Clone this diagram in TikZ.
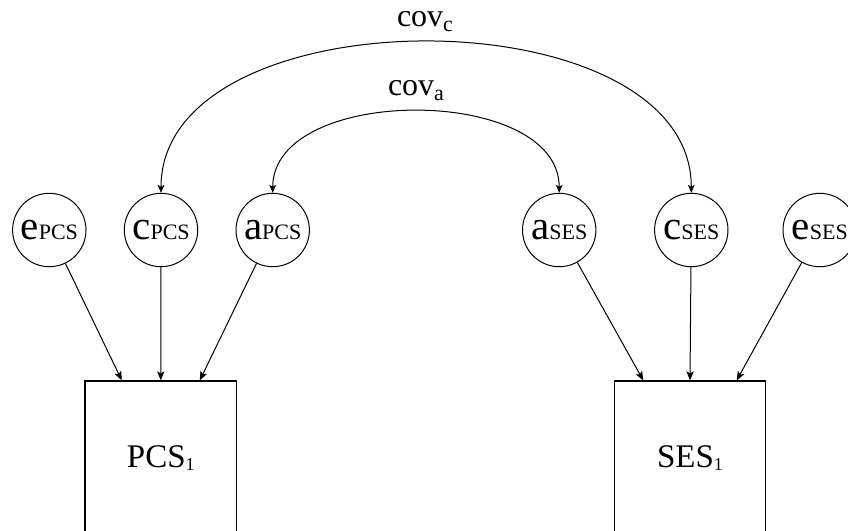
\documentclass[tikz,border=0pt]{standalone}
\usepackage{fontspec}
\setmainfont{Liberation Serif}
\newfontfamily\labfont{Liberation Serif}
\usetikzlibrary{arrows.meta,calc}
\newcommand\circlab[2]{{\labfont\fontsize{20.5}{20.5}\selectfont #1}{\labfont\fontsize{11}{11}\selectfont #2}}
\newcommand\boxlab[2]{{\labfont\fontsize{16.5}{16.5}\selectfont #1}\raisebox{-1.5pt}{\labfont\fontsize{9}{9}\selectfont #2}}
\newcommand\covlab[1]{{\labfont\fontsize{16}{16}\selectfont cov}\raisebox{-2.5pt}{\labfont\fontsize{11}{11}\selectfont #1}}
\tikzset{
  latent/.style={draw, circle, line width=0.5pt, minimum size=36.7pt, inner sep=0pt, font=\labfont, text height=9.4pt, text depth=0pt},
  observed/.style={draw, rectangle, line width=0.6pt, minimum width=75.75pt, minimum height=75.5pt, inner sep=0pt, font=\labfont, text height=10.9pt, text depth=0pt},
  path arrow/.style={line width=0.5pt, -{Stealth[length=4.5pt,width=3.6pt,inset=1pt]}},
  cov arrow/.style={line width=0.5pt, {Stealth[length=4pt,width=3.4pt,inset=1pt]}-{Stealth[length=4pt,width=3.4pt,inset=1pt]}},
  covtext/.style={anchor=base, inner sep=0pt, font=\labfont}
}
\begin{document}
\begin{tikzpicture}[x=0.5pt, y=-0.5pt]
\useasboundingbox (0,0) rectangle (848,531);
% latent variables
\node[latent] (ep) at (49.3,230) {\circlab{e}{PCS}};
\node[latent] (cp) at (161,230) {\circlab{c}{PCS}};
\node[latent] (ap) at (272.7,230) {\circlab{a}{PCS}};
\node[latent] (as) at (559.2,230) {\circlab{a}{SES}};
\node[latent] (cs) at (691.3,230) {\circlab{c}{SES}};
\node[latent] (es) at (819.7,230) {\circlab{e}{SES}};
% observed
\node[observed] (pcs) at (160.8,456.5) {\boxlab{PCS}{1}};
\node[observed] (ses) at (690,456.5) {\boxlab{SES}{1}};
% targets on box tops
\coordinate (p1) at ($(pcs.north)+(-39,0)$);
\coordinate (p2) at (pcs.north);
\coordinate (p3) at ($(pcs.north)+(39,0)$);
\coordinate (s1) at ($(ses.north)+(-46.7,0)$);
\coordinate (s2) at (ses.north);
\coordinate (s3) at ($(ses.north)+(46.7,0)$);
\draw[path arrow] (ep) -- (p1);
\draw[path arrow] (cp) -- (p2);
\draw[path arrow] (ap) -- (p3);
\draw[path arrow] (as) -- (s1);
\draw[path arrow] (cs) -- (s2);
\draw[path arrow] (es) -- (s3);
% covariances
\draw[cov arrow] (cp.north) to[out=90,in=90,looseness=0.97] (cs.north);
\draw[cov arrow] (ap.north) to[out=90,in=90,looseness=0.97] (as.north);
\node[covtext] (covc) at (425,26.7) {\covlab{c}};
\node[covtext] (cova) at (416,95) {\covlab{a}};
\end{tikzpicture}
\end{document}
